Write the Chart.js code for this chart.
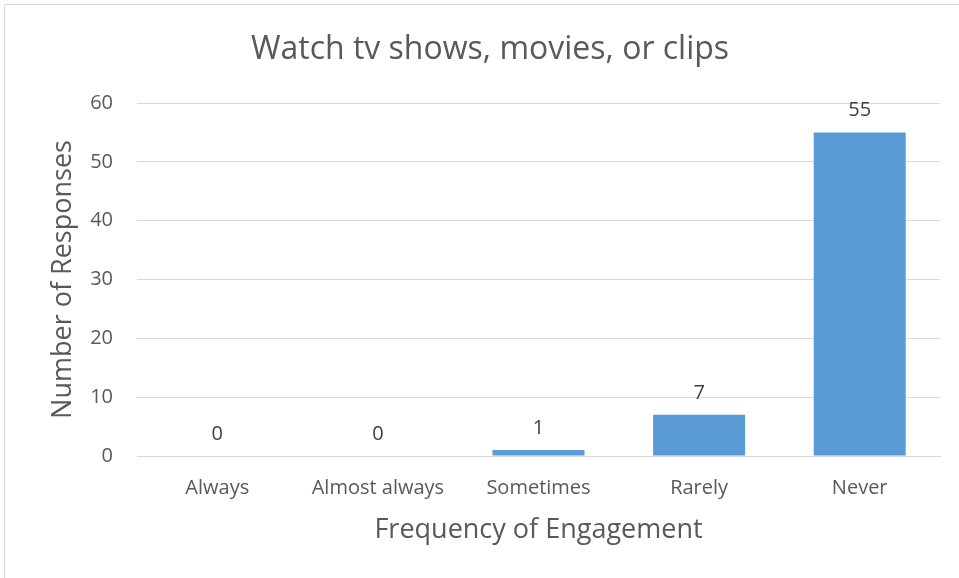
<!DOCTYPE html>
<html>
<head>
<meta charset="utf-8">
<script src="https://cdn.jsdelivr.net/npm/chart.js@4/dist/chart.umd.min.js"></script>
<style>
html,body{margin:0;padding:0;background:#fff;overflow:hidden;}
#frame{position:absolute;left:4px;top:4px;width:1200px;height:1000px;border:1px solid #d9d9d9;box-sizing:border-box;}
#wrap{position:absolute;left:0;top:0;width:959px;height:578px;}
</style>
</head>
<body>
<div id="frame"></div>
<div id="wrap"><canvas id="c" width="959" height="578"></canvas></div>
<script>
const categories = ["Always", "Almost always", "Sometimes", "Rarely", "Never"];
const responses = [0, 0, 1, 7, 55];
const yTicks = [0, 10, 20, 30, 40, 50, 60];
const chartTitle = "Watch tv shows, movies, or clips";
const xTitle = "Frequency of Engagement";
const yTitle = "Number of Responses";

const FONT = "'Open Sans', 'Noto Sans', sans-serif";

const labelPlugin = {
  id: 'barLabels',
  afterDatasetsDraw(chart) {
    const ctx = chart.ctx;
    const meta = chart.getDatasetMeta(0);
    ctx.save();
    ctx.font = "20px " + FONT;
    ctx.fillStyle = "#404040";
    ctx.textAlign = "center";
    ctx.textBaseline = "alphabetic";
    meta.data.forEach((bar, i) => {
      ctx.fillText(String(responses[i]), bar.x, bar.y - 16);
    });
    ctx.restore();
  }
};

new Chart(document.getElementById('c'), {
  type: 'bar',
  data: {
    labels: categories,
    datasets: [{
      data: responses,
      backgroundColor: '#5b9bd5',
      borderWidth: 0,
      categoryPercentage: 0.573,
      barPercentage: 1.0
    }]
  },
  options: {
    responsive: false,
    animation: false,
    devicePixelRatio: 1,
    layout: { padding: { left: 40, right: 19, top: 14, bottom: 20 } },
    plugins: {
      legend: { display: false },
      tooltip: { enabled: false },
      title: {
        display: true,
        text: chartTitle,
        color: '#595959',
        font: { family: FONT, size: 32, weight: 'normal' },
        padding: { top: 16.8, bottom: 33.8 }
      }
    },
    scales: {
      x: {
        afterFit(scale) { scale.height = 102; },
        grid: { display: false, drawTicks: false },
        border: { display: true, color: '#d9d9d9', width: 1 },
        ticks: { color: '#595959', font: { family: FONT, size: 20 }, padding: 20, maxRotation: 0 },
        title: { display: true, text: xTitle, color: '#595959', font: { family: FONT, size: 27 }, padding: { top: 0, bottom: 11.8 } }
      },
      y: {
        min: 0, max: 60,
        afterBuildTicks(scale) { scale.ticks = yTicks.map(v => ({ value: v })); },
        afterFit(scale) { scale.width = 97; },
        grid: { color: '#d9d9d9', lineWidth: 1, drawTicks: false },
        border: { display: false },
        ticks: { color: '#595959', font: { family: FONT, size: 20 }, padding: 24 },
        title: { display: true, text: yTitle, color: '#595959', font: { family: FONT, size: 27 }, padding: { top: 6.8, bottom: 0 } }
      }
    }
  },
  plugins: [labelPlugin]
});
</script>
</body>
</html>
